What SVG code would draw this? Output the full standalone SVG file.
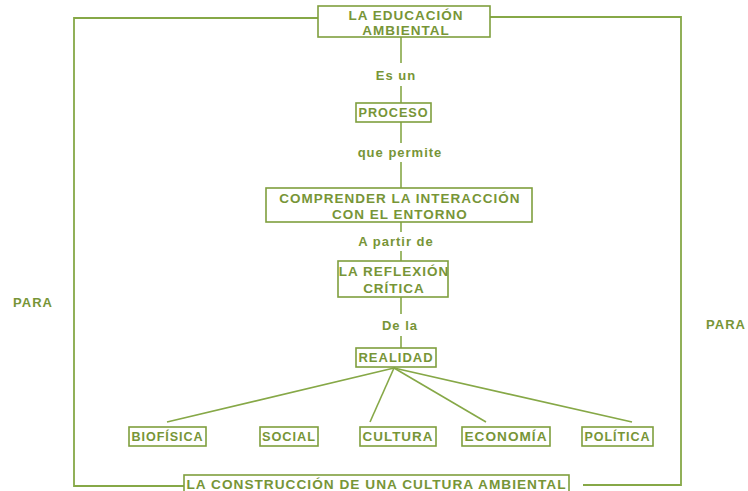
<svg xmlns="http://www.w3.org/2000/svg" width="748" height="491" viewBox="0 0 748 491">
<style>
.box{fill:#fff;stroke:#7f9f3e;stroke-width:1.6}
.t{font-family:"Liberation Sans",Arial,sans-serif;font-weight:bold;fill:#779537;font-size:13.5px;letter-spacing:1px;text-anchor:middle}
.lbl{font-family:"Liberation Sans",Arial,sans-serif;font-weight:bold;fill:#779537;font-size:13px;letter-spacing:1px;text-anchor:middle}
.ln{stroke:#86a847;stroke-width:1.6;fill:none}
.fr{stroke:#86a847;stroke-width:1.8;fill:none}
</style>
<rect width="748" height="491" fill="#fff"/>
<g id="connectors">
<polyline class="fr" points="318,18 74,18 74,486 185,486"/>
<polyline class="fr" points="490,17 681,17 681,485 583,485"/>
<line class="ln" x1="401" y1="37" x2="401" y2="63"/>
<line class="ln" x1="401" y1="86" x2="401" y2="103"/>
<line class="ln" x1="401" y1="122" x2="401" y2="143"/>
<line class="ln" x1="401" y1="162" x2="401" y2="188"/>
<line class="ln" x1="401" y1="222" x2="401" y2="232"/>
<line class="ln" x1="401" y1="251" x2="401" y2="261"/>
<line class="ln" x1="401" y1="297" x2="401" y2="314"/>
<line class="ln" x1="401" y1="336" x2="401" y2="348"/>
<line class="ln" x1="394" y1="368" x2="167" y2="422"/>
<line class="ln" x1="394" y1="368" x2="370" y2="422"/>
<line class="ln" x1="394" y1="368" x2="486" y2="422"/>
<line class="ln" x1="394" y1="368" x2="632" y2="422"/>
<text class="lbl" x="396" y="80">Es un</text>
<text class="lbl" x="400" y="157">que permite</text>
<text class="lbl" x="396" y="246">A partir de</text>
<text class="lbl" x="400" y="330">De la</text>
<text class="lbl" x="33" y="307">PARA</text>
<text class="lbl" x="726" y="329">PARA</text>
</g>
<g id="educacion"><rect class="box" x="318" y="6" width="172" height="31"/><text class="t" x="406" y="20">LA EDUCACIÓN</text><text class="t" x="406" y="35">AMBIENTAL</text></g>
<g id="proceso"><rect class="box" x="356" y="103" width="75" height="19"/><text class="t" x="393.5" y="117" textLength="70" lengthAdjust="spacingAndGlyphs">PROCESO</text></g>
<g id="comprender"><rect class="box" x="266" y="188" width="266" height="34"/><text class="t" x="400" y="203">COMPRENDER LA INTERACCIÓN</text><text class="t" x="400" y="219">CON EL ENTORNO</text></g>
<g id="reflexion"><rect class="box" x="338" y="261" width="110" height="36"/><text class="t" x="394" y="276">LA REFLEXIÓN</text><text class="t" x="394" y="293">CRÍTICA</text></g>
<g id="realidad"><rect class="box" x="356" y="348" width="80" height="19"/><text class="t" x="396" y="362" textLength="75" lengthAdjust="spacingAndGlyphs">REALIDAD</text></g>
<g id="biofisica"><rect class="box" x="129" y="427" width="77" height="19"/><text class="t" x="167.5" y="441" textLength="72" lengthAdjust="spacingAndGlyphs">BIOFÍSICA</text></g>
<g id="social"><rect class="box" x="260" y="427" width="58" height="19"/><text class="t" x="289" y="441" textLength="54" lengthAdjust="spacingAndGlyphs">SOCIAL</text></g>
<g id="cultura"><rect class="box" x="360" y="427" width="76" height="19"/><text class="t" x="398" y="441" textLength="71" lengthAdjust="spacingAndGlyphs">CULTURA</text></g>
<g id="economia"><rect class="box" x="462" y="427" width="88" height="19"/><text class="t" x="506" y="441" textLength="83" lengthAdjust="spacingAndGlyphs">ECONOMÍA</text></g>
<g id="politica"><rect class="box" x="582" y="427" width="71" height="19"/><text class="t" x="617.5" y="441" textLength="66" lengthAdjust="spacingAndGlyphs">POLÍTICA</text></g>
<g id="construccion"><rect class="box" x="184" y="475" width="385" height="20"/><text class="t" x="376.5" y="489" textLength="380" lengthAdjust="spacingAndGlyphs">LA CONSTRUCCIÓN DE UNA CULTURA AMBIENTAL</text></g>
</svg>
